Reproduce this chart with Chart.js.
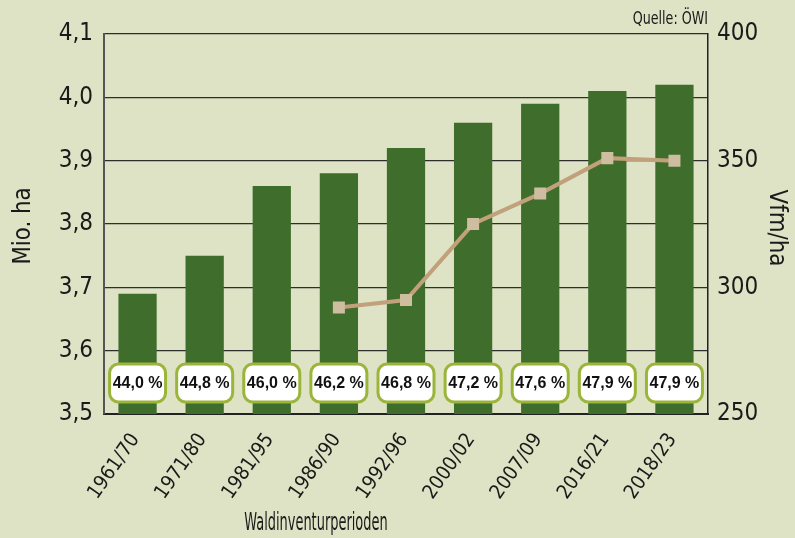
<!DOCTYPE html>
<html>
<head>
<meta charset="utf-8">
<script src="https://cdn.jsdelivr.net/npm/chart.js@4"></script>
<style>
  html, body { margin: 0; padding: 0; background: #dde3c4; }
  canvas { display: block; }
</style>
</head>
<body>
<canvas id="c" width="795" height="538"></canvas>
<script>
// Waldinventurperioden
const categories = ['1961/70', '1971/80', '1981/95', '1986/90', '1992/96', '2000/02', '2007/09', '2016/21', '2018/23']
// Waldfläche in Mio. ha (linke Achse)
const waldflaeche = [3.69, 3.75, 3.86, 3.88, 3.92, 3.96, 3.99, 4.01, 4.02]
// Vorrat in Vfm/ha (rechte Achse)
const vorrat = [null, null, null, 292, 295, 325, 337, 351, 350]
// Bewaldungsanteil in %
const anteil = [44.0, 44.8, 46.0, 46.2, 46.8, 47.2, 47.6, 47.9, 47.9]

const leftTicks = { min: 3.5, max: 4.1, step: 0.1 }
const rightTicks = { min: 250, max: 400, step: 50 }

const FONT = '"Liberation Sans Narrow", "DejaVu Sans Condensed", "Roboto Condensed", Roboto, sans-serif'
const BG = '#dde3c4'

const bgPlugin = {
    id: 'bg',
    beforeDraw(chart) {
        const { ctx, width, height } = chart
        ctx.save()
        ctx.fillStyle = BG
        ctx.fillRect(0, 0, width, height)
        ctx.restore()
    }
}

// draws text squeezed horizontally (the original font is a condensed one)
function squeezed(ctx, text, x, y, sx, rot) {
    ctx.save()
    ctx.translate(x, y)
    if (rot) ctx.rotate(rot)
    ctx.scale(sx, 1)
    ctx.fillText(text, 0, 0)
    ctx.restore()
}

// rounded boxes with the percentages + titles
const extras = {
    id: 'extras',
    afterDatasetsDraw(chart) {
        const { ctx, chartArea } = chart
        const xs = chart.scales.x
        ctx.save()
        const w = 56, h = 38, r = 9
        const cy = chartArea.bottom - 31
        anteil.forEach(function (v, i) {
            const cx = xs.getPixelForValue(i)
            ctx.beginPath()
            ctx.roundRect(cx - w / 2, cy - h / 2, w, h, r)
            ctx.fillStyle = '#ffffff'
            ctx.fill()
            ctx.lineWidth = 3
            ctx.strokeStyle = '#9bb43a'
            ctx.stroke()
            ctx.fillStyle = '#111'
            ctx.font = 'bold 16px "Liberation Sans", Arial, sans-serif'
            ctx.textAlign = 'center'
            ctx.textBaseline = 'middle'
            ctx.fillText(v.toFixed(1).replace('.', ',') + ' %', cx, cy + 1)
        })
        ctx.restore()
    },
    afterDraw(chart) {
        const { ctx } = chart
        ctx.save()
        ctx.fillStyle = '#1a1a1a'
        ctx.textAlign = 'center'
        ctx.textBaseline = 'middle'
        ctx.font = '25px ' + FONT
        squeezed(ctx, 'Mio. ha', 23, 226, 0.95, -Math.PI / 2)
        squeezed(ctx, 'Vfm/ha', 776, 228, 0.95, Math.PI / 2)

        ctx.textBaseline = 'alphabetic'
        ctx.font = '24px ' + FONT
        squeezed(ctx, 'Waldinventurperioden', 316, 530, 0.6)
        ctx.textAlign = 'right'
        ctx.font = '17px ' + FONT
        squeezed(ctx, 'Quelle: ÖWI', 708, 24, 0.83)
        ctx.restore()
    }
}

const comma = v => Number(v).toFixed(1).replace('.', ',')

new Chart(document.getElementById('c'), {
    data: {
        labels: categories,
        datasets: [
            {
                type: 'line',
                data: vorrat,
                yAxisID: 'y1',
                borderColor: '#c1a07c',
                borderWidth: 4,
                pointStyle: 'rect',
                pointRadius: 8.5,
                pointBackgroundColor: '#cfbda0',
                pointBorderWidth: 0,
                spanGaps: false,
                order: 0
            },
            {
                type: 'bar',
                data: waldflaeche,
                yAxisID: 'y',
                backgroundColor: '#3f6d2b',
                borderWidth: 0,
                barPercentage: 0.57,
                categoryPercentage: 1,
                order: 1
            }
        ]
    },
    options: {
        responsive: false,
        animation: false,
        layout: { padding: { top: 34, left: 0, right: 0, bottom: 0 } },
        plugins: {
            legend: { display: false },
            tooltip: { enabled: false }
        },
        scales: {
            x: {
                grid: { display: false },
                border: { display: true, color: '#222', width: 2 },
                ticks: {
                    color: '#1a1a1a',
                    font: { family: FONT, size: 20 },
                    minRotation: 55,
                    maxRotation: 55,
                    padding: 7,
                    labelOffset: -2
                },
                afterFit(scale) { scale.height = 124 }
            },
            y: {
                position: 'left',
                min: leftTicks.min,
                max: leftTicks.max,
                grid: { color: '#2e2e2e', lineWidth: 1.2, drawTicks: false },
                border: { display: true, color: '#555', width: 2 },
                ticks: {
                    stepSize: leftTicks.step,
                    color: '#1a1a1a',
                    padding: 11,
                    font: { family: FONT, size: 24 },
                    callback: comma
                },
                afterFit(scale) { scale.width = 104 }
            },
            y1: {
                position: 'right',
                min: rightTicks.min,
                max: rightTicks.max,
                grid: { drawOnChartArea: false, drawTicks: false },
                border: { display: true, color: '#222', width: 1.5 },
                ticks: {
                    stepSize: rightTicks.step,
                    color: '#1a1a1a',
                    padding: 9,
                    font: { family: FONT, size: 24 }
                },
                afterFit(scale) { scale.width = 87 }
            }
        }
    },
    plugins: [bgPlugin, extras]
})
</script>
</body>
</html>
